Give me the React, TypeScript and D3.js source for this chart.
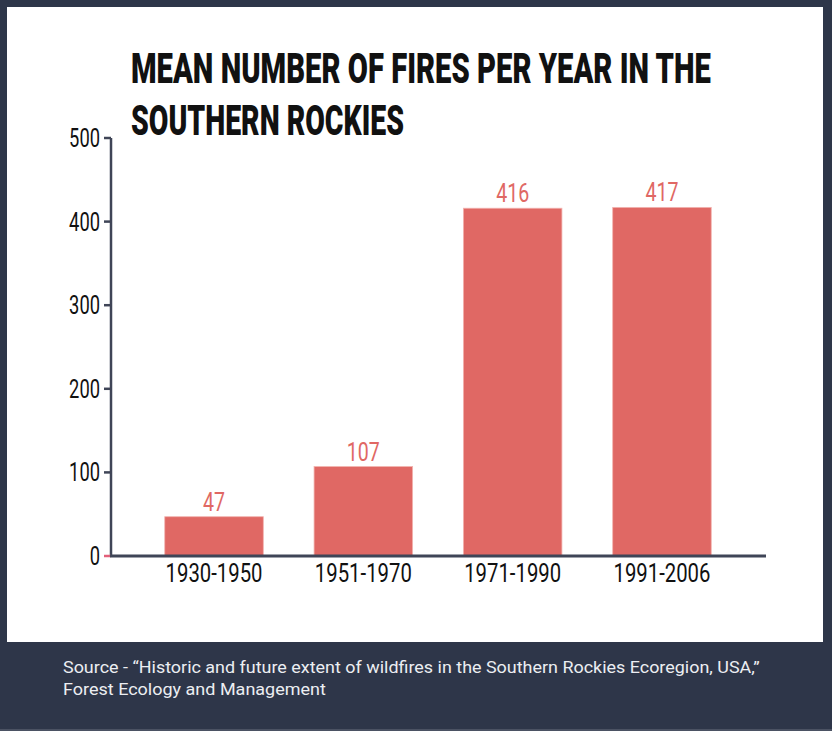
import React, { useEffect, useRef } from 'react';
import * as d3 from 'd3';

const periods = ['1930-1950', '1951-1970', '1971-1990', '1991-2006'];
const meanFires = [47, 107, 416, 417];
const yTicks = [0, 100, 200, 300, 400, 500];
const titleLines = ['MEAN NUMBER OF FIRES PER YEAR IN THE', 'SOUTHERN ROCKIES'];
const sourceLines = [
  'Source - \u201cHistoric and future extent of wildfires in the Southern Rockies Ecoregion, USA,\u201d',
  'Forest Ecology and Management',
];

const W = 832;
const H = 731;

// squeeze text horizontally to a target width (condensed look) via a transform
function squeeze(sel: d3.Selection<any, any, any, any>, width: (d: any, i: number) => number) {
  sel.each(function (d, i) {
    const node = this as SVGTextElement;
    const natural = node.getComputedTextLength();
    const s = natural > 0 ? width(d, i) / natural : 1;
    const x = +(node.getAttribute('x') || 0);
    const y = +(node.getAttribute('y') || 0);
    node.setAttribute('x', '0');
    node.setAttribute('y', '0');
    node.setAttribute('transform', `translate(${x},${y}) scale(${s},1)`);
  });
}

const App: React.FC = () => {
  const svgRef = useRef<SVGSVGElement>(null);

  useEffect(() => {
    if (!svgRef.current) return;
    const svg = d3.select(svgRef.current);
    svg.selectAll('*').remove();

    const dark = '#2e3649';
    const barColor = '#e06864';
    const axisColor = '#3f4557';

    // background + white panel
    svg.append('rect').attr('width', W).attr('height', H).attr('fill', dark);
    svg.append('rect').attr('x', 0).attr('y', H - 2).attr('width', W).attr('height', 2).attr('fill', '#4b5263');
    svg.append('rect').attr('x', 7).attr('y', 7).attr('width', 816).attr('height', 635).attr('fill', '#ffffff');

    // title
    const titleWidths = [580, 273];
    const title = svg.selectAll('text.title')
      .data(titleLines)
      .enter()
      .append('text')
      .attr('class', 'title')
      .attr('x', 131)
      .attr('y', (_, i) => 83 + i * 52)
      .style('font-family', 'Roboto, sans-serif')
      .style('font-weight', 900)
      .style('font-size', '42px')
      .style('fill', '#111')
      .text(d => d);
    squeeze(title, (_, i) => titleWidths[i]);

    const x = d3.scaleBand<string>()
      .domain(periods)
      .range([111, 765])
      .paddingInner(0.34)
      .paddingOuter(0.36);

    const y = d3.scaleLinear().domain([0, 500]).range([556, 138]);

    // bars
    svg.selectAll('rect.bar')
      .data(meanFires)
      .enter()
      .append('rect')
      .attr('class', 'bar')
      .attr('x', (_, i) => x(periods[i])!)
      .attr('y', d => y(d))
      .attr('width', x.bandwidth())
      .attr('height', d => y(0) - y(d))
      .attr('fill', barColor)
      .attr('stroke', '#f2b3af')
      .attr('stroke-width', 0.8);

    // value labels
    const vals = svg.selectAll('text.val')
      .data(meanFires)
      .enter()
      .append('text')
      .attr('class', 'val')
      .attr('x', (_, i) => x(periods[i])! + x.bandwidth() / 2)
      .attr('y', d => y(d) - 6)
      .attr('text-anchor', 'middle')
      .style('font-family', 'Roboto, sans-serif')
      .style('font-size', '26px')
      .style('fill', barColor)
      .text(d => d);
    squeeze(vals, d => String(d).length * 11);

    // y axis
    svg.append('line')
      .attr('x1', 111).attr('x2', 111)
      .attr('y1', y(500)).attr('y2', y(0))
      .attr('stroke', axisColor).attr('stroke-width', 2.5);

    svg.selectAll('line.ytick')
      .data(yTicks)
      .enter()
      .append('line')
      .attr('class', 'ytick')
      .attr('x1', 104).attr('x2', 111)
      .attr('y1', d => y(d)).attr('y2', d => y(d))
      .attr('stroke', d => (d === 0 ? '#e2607a' : axisColor))
      .attr('stroke-width', 2.5);

    const ylabs = svg.selectAll('text.ylab')
      .data(yTicks)
      .enter()
      .append('text')
      .attr('class', 'ylab')
      .attr('x', 100)
      .attr('y', d => y(d) + 9)
      .attr('text-anchor', 'end')
      .style('font-family', 'Roboto, sans-serif')
      .style('font-size', '26px')
      .style('fill', '#111')
      .text(d => d);
    squeeze(ylabs, d => String(d).length * 10.3);

    // x axis
    svg.append('line')
      .attr('x1', 110).attr('x2', 766)
      .attr('y1', y(0)).attr('y2', y(0))
      .attr('stroke', axisColor).attr('stroke-width', 3);

    const xlabs = svg.selectAll('text.xlab')
      .data(periods)
      .enter()
      .append('text')
      .attr('class', 'xlab')
      .attr('x', d => x(d)! + x.bandwidth() / 2)
      .attr('y', 582)
      .attr('text-anchor', 'middle')
      .style('font-family', 'Roboto, sans-serif')
      .style('font-size', '26px')
      .style('fill', '#111')
      .text(d => d);
    squeeze(xlabs, () => 97);

    // source
    const sourceWidths = [697, 263];
    const src = svg.selectAll('text.src')
      .data(sourceLines)
      .enter()
      .append('text')
      .attr('class', 'src')
      .attr('x', 63)
      .attr('y', (_, i) => 672.5 + i * 22)
      .style('font-family', 'Roboto, sans-serif')
      .style('font-size', '17px')
      .style('fill', '#eceef2')
      .text(d => d);
    squeeze(src, (_, i) => sourceWidths[i]);
  }, []);

  return (
    <div style={{ position: 'absolute', left: 0, top: 0 }}>
      <svg ref={svgRef} width={W} height={H} style={{ display: 'block' }} />
    </div>
  );
};

export default App;
